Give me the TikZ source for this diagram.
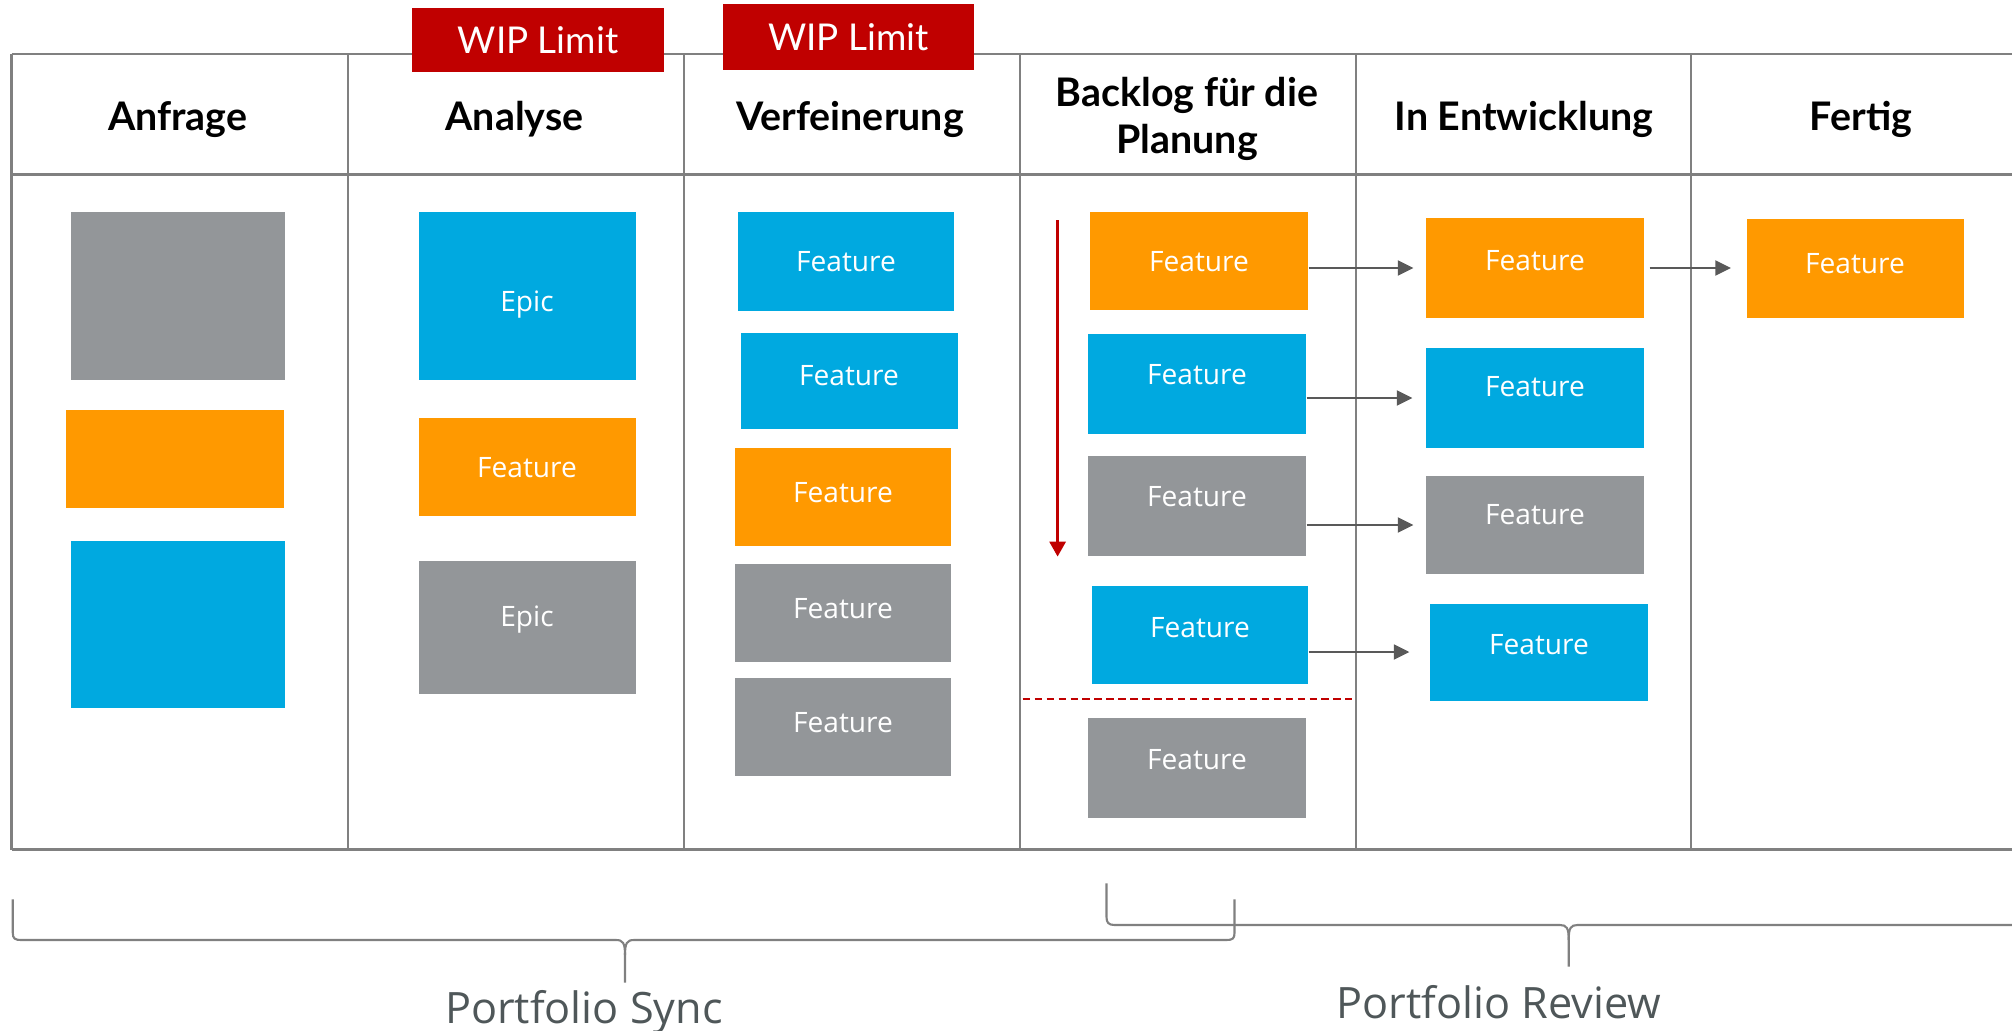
\documentclass[tikz,border=0pt]{standalone}
\usepackage{fontspec}
\setmainfont{Lato}
\newfontfamily\cardfont{Open Sans}
\usetikzlibrary{arrows.meta}
\definecolor{kbOrange}{HTML}{FF9900}
\definecolor{kbBlue}{HTML}{00A9E0}
\definecolor{kbGray}{HTML}{939699}
\definecolor{kbRed}{HTML}{C00000}
\definecolor{kbLine}{HTML}{808080}
\definecolor{kbArrow}{HTML}{595959}
\definecolor{kbText}{HTML}{4F5759}
\begin{document}
\begin{tikzpicture}[x=1cm,y=-1cm,
    grid/.style={draw=kbLine, line width=0.6pt},
    head/.style={font=\bfseries\fontsize{11.2}{13.4}\selectfont, align=center, anchor=base},
    wip/.style={fill=kbRed, text=white, inner sep=0pt, font=\fontsize{10.5}{12}\selectfont, text height=7.5pt, text depth=0pt},
    card/.style={rectangle, inner sep=0pt, text=white, font=\cardfont\fontsize{8}{9.6}\selectfont,
        text height=5.7pt, text depth=0pt, minimum width=2.17cm, minimum height=0.98cm},
    lift/.style={text depth=#1pt},
    flow/.style={draw=kbArrow, line width=0.45pt, -{Triangle[length=4.4pt,width=4.3pt]}},
    prio/.style={draw=kbRed, line width=1pt, -{Triangle[length=4.3pt,width=4.5pt]}},
    cut/.style={draw=kbRed, line width=0.7pt, dash pattern=on 2.1pt off 1.3pt},
    brace/.style={draw=kbLine, line width=0.6pt},
    phase/.style={font=\cardfont\fontsize{12.3}{15}\selectfont, text=kbText, anchor=base}]
    \useasboundingbox (0,0) rectangle (20.12,10.30);
    % board
    \draw[grid] (0.115,0.54) -- (20.12,0.54);
    \draw[grid] (0.115,1.745) -- (20.12,1.745);
    \draw[grid] (0.115,8.495) -- (20.12,8.495);
    \foreach \x in {0.115,3.477,6.84,10.20,13.56,16.91}
        \draw[grid] (\x,0.54) -- (\x,8.495);
    \node[head] (hAnfrage) at (1.777,1.305) {Anfrage};
    \node[head] (hAnalyse) at (5.146,1.305) {Analyse};
    \node[head] (hVerf) at (8.50,1.305) {Verfeinerung};
    \node[head, anchor=center] (hBacklog) at (11.87,1.19) {Backlog für die\\Planung};
    \node[head] (hEntw) at (15.24,1.305) {In Entwicklung};
    \node[head] (hFertig) at (18.61,1.305) {Fertig};
    \node[wip, minimum width=2.52cm, minimum height=0.634cm] (wip1) at (5.38,0.40) {WIP Limit};
    \node[wip, minimum width=2.51cm, minimum height=0.66cm] (wip2) at (8.485,0.37) {WIP Limit};
    % Anfrage
    \node[card, fill=kbGray, minimum width=2.14cm, minimum height=1.68cm] (a1) at (1.78,2.96) {};
    \node[card, fill=kbOrange, minimum width=2.18cm] (a2) at (1.745,4.594) {};
    \node[card, fill=kbBlue, minimum width=2.14cm, minimum height=1.67cm] (a3) at (1.78,6.24) {};
    % Analyse
    \node[card, fill=kbBlue, minimum height=1.68cm, text height=8.8pt] (n1) at (5.27,2.96) {Epic};
    \node[card, fill=kbOrange] (n2) at (5.27,4.67) {Feature};
    \node[card, fill=kbGray, minimum height=1.33cm, lift=6] (n3) at (5.27,6.275) {Epic};
    % Verfeinerung
    \node[card, fill=kbBlue, minimum width=2.16cm, minimum height=0.99cm] (v1) at (8.46,2.61) {Feature};
    \node[card, fill=kbBlue, minimum height=0.96cm, lift=2.6] (v2) at (8.49,3.805) {Feature};
    \node[card, fill=kbOrange, minimum width=2.16cm, lift=2.6] (v3) at (8.43,4.966) {Feature};
    \node[card, fill=kbGray, minimum width=2.16cm, lift=2.6] (v4) at (8.43,6.128) {Feature};
    \node[card, fill=kbGray, minimum width=2.16cm, lift=2.6] (v5) at (8.43,7.27) {Feature};
    % Backlog
    \node[card, fill=kbOrange, minimum width=2.18cm] (b1) at (11.99,2.61) {Feature};
    \node[card, fill=kbBlue, minimum width=2.18cm, minimum height=1cm, lift=5.3] (b2) at (11.97,3.84) {Feature};
    \node[card, fill=kbGray, minimum width=2.18cm, minimum height=1cm, lift=5.3] (b3) at (11.97,5.06) {Feature};
    \node[card, fill=kbBlue, minimum width=2.16cm, lift=4.3] (b4) at (12.0,6.35) {Feature};
    \node[card, fill=kbGray, minimum width=2.18cm, minimum height=1cm, lift=4.8] (b5) at (11.97,7.68) {Feature};
    \coordinate (prioTop) at (10.576,2.20);
    \coordinate (prioEnd) at (10.576,5.567);
    \draw[prio] (prioTop) -- (prioEnd);
    \coordinate (cutL) at (10.227,6.99);
    \coordinate (cutR) at (13.517,6.99);
    \draw[cut] (cutL) -- (cutR);
    % In Entwicklung
    \node[card, fill=kbOrange, minimum width=2.18cm, minimum height=1cm, lift=4.3] (e1) at (15.35,2.68) {Feature};
    \node[card, fill=kbBlue, minimum width=2.18cm, minimum height=1cm, lift=6.7] (e2) at (15.35,3.98) {Feature};
    \node[card, fill=kbGray, minimum width=2.18cm, lift=5.9] (e3) at (15.35,5.25) {Feature};
    \node[card, fill=kbBlue, minimum width=2.18cm, minimum height=0.97cm, lift=4.4] (e4) at (15.39,6.52) {Feature};
    % Fertig
    \node[card, fill=kbOrange, minimum height=0.99cm, lift=2.8] (f1) at (18.55,2.68) {Feature};
    % pulls
    \draw[flow, shorten >=0.12cm] (b1.east |- e1.west) -- (e1.west);
    \draw[flow, shorten >=0.13cm] (b2.east |- e2.west) -- (e2.west);
    \draw[flow, shorten >=0.12cm] (b3.east |- e3.west) -- (e3.west);
    \draw[flow, shorten >=0.2cm] (b4.east |- e4.west) -- (e4.west);
    \draw[flow, shorten <=0.05cm, shorten >=0.15cm] (e1.east |- f1.west) -- (f1.west);
    % meetings
    \draw[brace] (0.128,8.993) -- (0.128,9.33) .. controls (0.128,9.385) and (0.15,9.40) .. (0.21,9.40)
        -- (6.16,9.40) .. controls (6.23,9.40) and (6.25,9.43) .. (6.25,9.55) -- (6.25,9.827);
    \draw[brace] (12.345,8.993) -- (12.345,9.33) .. controls (12.345,9.385) and (12.325,9.40) .. (12.265,9.40)
        -- (6.34,9.40) .. controls (6.27,9.40) and (6.25,9.43) .. (6.25,9.55);
    \draw[brace] (11.065,8.833) -- (11.065,9.17) .. controls (11.065,9.225) and (11.085,9.25) .. (11.145,9.25)
        -- (15.60,9.25) .. controls (15.667,9.25) and (15.687,9.28) .. (15.687,9.40) -- (15.687,9.667);
    \draw[brace] (20.31,8.833) -- (20.31,9.17) .. controls (20.31,9.225) and (20.29,9.25) .. (20.23,9.25)
        -- (15.774,9.25) .. controls (15.707,9.25) and (15.687,9.28) .. (15.687,9.40);
    \node[phase] (sync) at (5.84,10.233) {Portfolio Sync};
    \node[phase] (review) at (14.99,10.183) {Portfolio Review};
\end{tikzpicture}
\end{document}
